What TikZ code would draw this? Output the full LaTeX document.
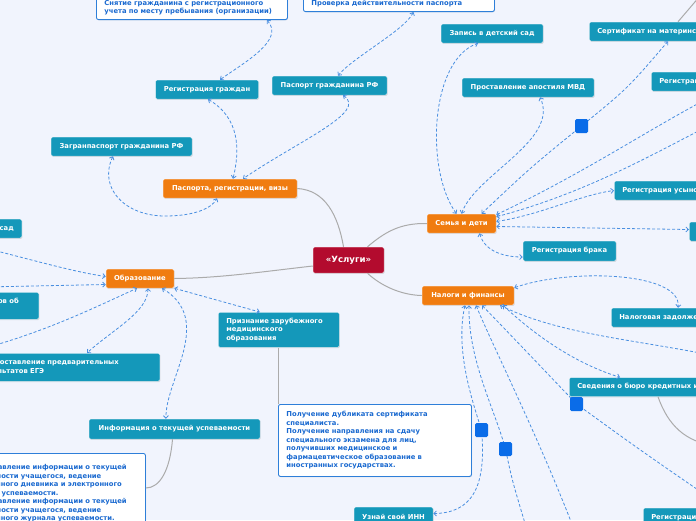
\documentclass[tikz,border=0pt]{standalone}
\usepackage{fontspec}
\setmainfont{DejaVu Sans}
\usetikzlibrary{arrows.meta, shadows}

\definecolor{bgcol}{HTML}{F1F4FD}
\definecolor{rootred}{HTML}{B30B2E}
\definecolor{topicorange}{HTML}{F07C10}
\definecolor{subteal}{HTML}{1498BA}
\definecolor{noteblue}{HTML}{2E7FD9}
\definecolor{notetext}{HTML}{1B6AD0}
\definecolor{relblue}{HTML}{4A8FE0}
\definecolor{handleblue}{HTML}{0A6CE8}
\definecolor{branchgray}{HTML}{ABABAB}

\begin{document}
\begin{tikzpicture}[
    x=1pt, y=-1pt,
    every node/.style={font=\fontsize{6.8}{8.5}\selectfont\bfseries},
    card/.style={
        rectangle, rounded corners=1.5pt, text=white,
        inner xsep=8pt, inner ysep=0pt,
        draw=white, draw opacity=0.6, line width=0.5pt,
        drop shadow={shadow xshift=0.7pt, shadow yshift=-0.9pt, opacity=0.25}
    },
    root/.style={card, fill=rootred, minimum height=26pt,
        font=\fontsize{8.6}{10}\selectfont\bfseries},
    topic/.style={card, fill=topicorange, minimum height=19pt},
    sub/.style={card, fill=subteal, minimum height=19pt},
    note/.style={
        rectangle, rounded corners=2pt, draw=noteblue, line width=0.9pt,
        fill=white, text=notetext, align=left, inner xsep=8pt, inner ysep=4.5pt,
        drop shadow={shadow xshift=0.6pt, shadow yshift=-0.8pt, opacity=0.15}
    },
    branch/.style={draw=branchgray, line width=1pt},
    rel/.style={draw=relblue, line width=0.8pt, dash pattern=on 3pt off 2pt,
        {Straight Barb[length=2.6pt,width=5pt]}-{Straight Barb[length=2.6pt,width=5pt]}},
    handle/.style={rectangle, fill=handleblue, rounded corners=1.5pt,
        minimum width=13pt, minimum height=14pt, inner sep=0pt}
]

\useasboundingbox (0,0) rectangle (696,520);
\clip (0,0) rectangle (696,520);
\fill[bgcol] (0,0) rectangle (696,520);

%% ─── ROOT AND TOPICS ─────────────────────────────────────────
\node[root, minimum width=71pt] (uslugi) at (348.5,260) {«Услуги»};

\node[topic, minimum width=134pt] (pasp)   at (230,188.5)   {Паспорта, регистрации, визы};
\node[topic, minimum width=68pt]  (obraz)  at (140,278.5)   {Образование};
\node[topic, minimum width=69pt]  (semya)  at (461.5,223.5) {Семья и дети};
\node[topic, minimum width=92pt]  (nalogi) at (468,295.5)   {Налоги и финансы};

%% ─── PASSPORTS ───────────────────────────────────────────────
\node[note, anchor=south west, text width=175pt] (snyat) at (96,20)
    {Снятие гражданина с регистрационного\\учета по месту пребывания (организации)};
\node[note, anchor=south west, text width=175pt] (proverka) at (303,12)
    {Проверка действительности паспорта};

\node[sub, minimum width=103pt] (reggr)  at (207,89.5)   {Регистрация граждан};
\node[sub, minimum width=115pt] (pasrf)  at (329.5,85.5) {Паспорт гражданина РФ};
\node[sub, minimum width=141pt] (zagran) at (121.5,146.5) {Загранпаспорт гражданина РФ};

%% ─── FAMILY ──────────────────────────────────────────────────
\node[sub, minimum width=102pt] (detsad)  at (492,33.5) {Запись в детский сад};
\node[sub, minimum width=132pt] (apostil) at (528,87.5) {Проставление апостиля МВД};
\node[sub, minimum width=93pt, minimum height=20pt] (brak) at (569.5,251) {Регистрация брака};
\node[sub, anchor=west] (sertif) at (589,31.5)  {Сертификат на материнский капитал};
\node[sub, anchor=west] (rozhd)  at (651,81.5)  {Регистрация рождения};
\node[sub, anchor=west] (usyn)   at (614,190.5) {Регистрация усыновления};
\node[sub, anchor=west] (otcov)  at (689,231.5) {Регистрация установления отцовства};

%% ─── TAXES ───────────────────────────────────────────────────
\node[sub, anchor=west] (zadol) at (611,317.5) {Налоговая задолженность};
\node[sub, anchor=west] (byuro) at (569,387)   {Сведения о бюро кредитных историй};
\node[sub, anchor=west] (regts) at (643,517.5) {Регистрация транспортных средств};
\node[sub, minimum width=79pt] (inn) at (393.5,516.5) {Узнай свой ИНН};

%% ─── EDUCATION ───────────────────────────────────────────────
\node[sub, anchor=east] (sadL) at (22,228.5) {Запись в детский сад};
\node[sub, anchor=north east, minimum height=27pt, align=left] (dokL) at (39,292)
    {Выдача дубликатов документов об\hspace*{12pt}\\образовании};
\node[sub, anchor=north east, minimum height=28pt, align=left] (ege) at (160,353)
    {Предоставление предварительных\hspace*{33pt}\\результатов ЕГЭ};
\node[sub, anchor=north west, minimum height=35pt, align=left, text width=105pt] (priznan) at (218,312)
    {Признание зарубежного\\медицинского\\образования};
\node[sub, minimum width=171pt, minimum height=20pt] (uspev) at (174.5,429)
    {Информация о текущей успеваемости};

\node[note, anchor=north west, text width=177pt, minimum height=72pt] (polub) at (278,404)
    {Получение дубликата сертификата\\специалиста.\\Получение направления на сдачу\\специального экзамена для лиц,\\получивших медицинское и\\фармацевтическое образование в\\иностранных государствах.};
\node[note, anchor=north west, text width=173pt, minimum height=80pt] (leftnote) at (-44,453)
    {Предоставление информации о текущей\\успеваемости учащегося, ведение\\электронного дневника и электронного\\журнала успеваемости.\\Предоставление информации о текущей\\успеваемости учащегося, ведение\\электронного журнала успеваемости.};

%% ─── BRANCHES ────────────────────────────────────────────────
\coordinate (offsertif) at (712,-18);
\coordinate (offbyuro)  at (716,446);

\draw[branch] ([xshift=-5pt]uslugi.north) .. controls (338,215) and (325,190) .. (pasp.east);
\draw[branch] ([xshift=19pt]uslugi.north) .. controls (385,232) and (400,223) .. (semya.west);
\draw[branch] ([xshift=19pt]uslugi.south) .. controls (380,285) and (400,295) .. (nalogi.west);
\draw[branch] ([yshift=-6pt]uslugi.west) .. controls (260,272) and (220,278) .. (obraz.east);

\draw[branch] (priznan.south) -- (priznan.south |- polub.north);
\draw[branch] ([xshift=-2pt]uspev.south) .. controls (170,470) and (160,488) .. ([yshift=-35pt]leftnote.north east);
\draw[branch] ([xshift=89pt]byuro.south west) .. controls (668,425) and (685,442) .. (offbyuro);
\draw[branch] ([xshift=89pt]sertif.north west) -- (offsertif);

%% ─── RELATIONS ───────────────────────────────────────────────
\coordinate (sq1) at (581.5,126);
\coordinate (sq2) at (576.5,404);
\coordinate (sq3) at (481.5,430);
\coordinate (sq4) at (505.5,449);
\coordinate (loopzag) at (165,216);
\coordinate (offobr1) at (-15,248);
\coordinate (offobr2) at (-15,287);
\coordinate (offobr3) at (-15,348);
\coordinate (offsem1) at (720,92);
\coordinate (offsem2) at (720,120);
\coordinate (offnal1) at (720,357);
\coordinate (offnal2) at (720,505);
\coordinate (offnal3) at (527,530);
\coordinate (offnal4) at (575,532);

% passports
\draw[rel] ([xshift=75pt]snyat.south) .. controls (285,40) and (245,62) .. ([xshift=13pt]reggr.north);
\draw[rel] ([xshift=1pt]reggr.south) .. controls (240,118) and (240,150) .. ([xshift=3pt]pasp.north);
\draw[rel] ([xshift=14.5pt]proverka.south) .. controls (405,30) and (352,58) .. ([xshift=8.5pt]pasrf.north);
\draw[rel] ([xshift=13.5pt]pasrf.south) .. controls (368,112) and (300,140) .. ([xshift=13pt]pasp.north);
\draw[rel] ([xshift=-8.5pt]zagran.south) .. controls (98,188) and (125,216) .. (loopzag)
    .. controls (195,216) and (212,208) .. ([xshift=-13pt]pasp.south);

% education
\draw[rel] (obraz.south east) -- ([xshift=-19pt]priznan.north);
\draw[rel] ([xshift=22pt]obraz.south) .. controls (215,320) and (165,380) .. ([xshift=-8.5pt]uspev.north);
\draw[rel] ([xshift=8pt]obraz.south) .. controls (148,312) and (112,330) .. ([xshift=-73pt]ege.north east);
\draw[rel] (offobr1) .. controls (40,262) and (75,272) .. ([yshift=2pt]obraz.west);
\draw[rel] (offobr2) -- ([yshift=-6pt]obraz.west);
\draw[rel] (offobr3) .. controls (50,330) and (100,305) .. ([xshift=-3pt]obraz.south);

% family
\draw[rel] ([xshift=-5pt]semya.north) .. controls (425,170) and (430,60) .. ([xshift=-14pt]detsad.south);
\draw[rel] (semya.north) .. controls (475,175) and (560,140) .. ([xshift=12pt]apostil.south);
\draw[rel] ([xshift=20pt]semya.north) .. controls (530,168) .. (sq1)
    .. controls (628,88) .. ([xshift=79pt]sertif.south west);
\draw[rel] ([yshift=-1pt]semya.north east) .. controls (590,170) and (650,128) .. (offsem1);
\draw[rel] ([yshift=-3pt]semya.north east) .. controls (590,192) and (660,150) .. (offsem2);
\draw[rel] ([yshift=2pt]semya.east) .. controls (540,215) and (580,195) .. (usyn.west);
\draw[rel] ([yshift=-3pt]semya.east) -- ([yshift=2pt]otcov.west);
\draw[rel] ([xshift=18pt]semya.south) .. controls (485,252) and (505,257) .. ([yshift=-6pt]brak.west);

% taxes
\draw[rel] ([yshift=-2pt]nalogi.north east) .. controls (570,268) and (682,272) .. ([xshift=67pt]zadol.north west);
\draw[rel] ([xshift=32pt]nalogi.south) .. controls (560,335) and (640,340) .. (offnal1);
\draw[rel] ([xshift=35pt]nalogi.south) .. controls (540,340) and (580,365) .. ([xshift=51pt]byuro.north west);
\draw[rel] ([xshift=14pt]nalogi.south) .. controls (525,350) .. (sq2) .. controls (640,450) .. (offnal2);
\draw[rel] ([xshift=-3pt]nalogi.south) .. controls (455,350) and (472,400) .. (sq3)
    .. controls (487,490) and (470,513) .. ([yshift=3pt]inn.east);
\draw[rel] ([xshift=1pt]nalogi.south) .. controls (468,360) and (495,410) .. (sq4) .. controls (512,480) .. (offnal3);
\draw[rel] ([xshift=8pt]nalogi.south) .. controls (490,340) and (540,440) .. (offnal4);

%% ─── HANDLES ─────────────────────────────────────────────────
\foreach \h in {1,...,4}
    \node[handle] (handle\h) at (sq\h) {};

\end{tikzpicture}
\end{document}
